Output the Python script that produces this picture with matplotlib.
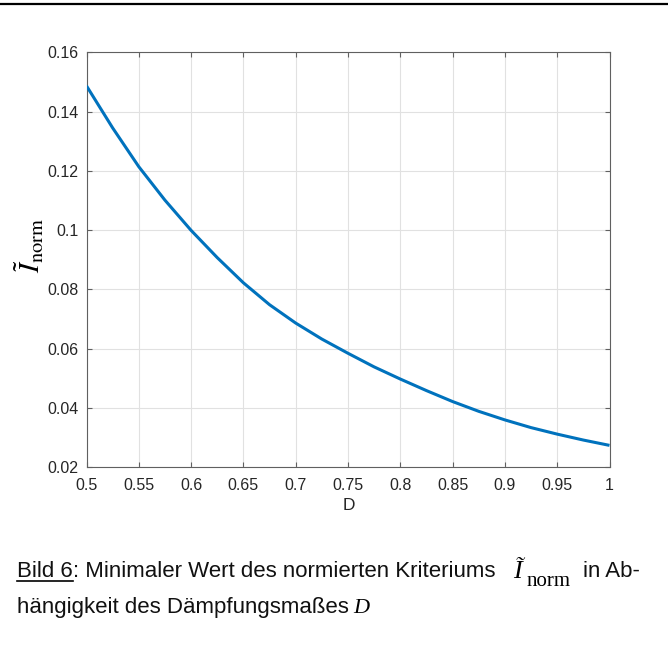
import matplotlib
matplotlib.use('Agg')
import matplotlib.pyplot as plt
from matplotlib.lines import Line2D

# ---- data ----
D = [0.500, 0.525, 0.550, 0.575, 0.600, 0.625, 0.650, 0.675, 0.700, 0.725,
     0.750, 0.775, 0.800, 0.825, 0.850, 0.875, 0.900, 0.925, 0.950, 0.975, 1.000]
I_norm = [0.1487, 0.1345, 0.1214, 0.1101, 0.0999, 0.0907, 0.0822, 0.0748, 0.0686, 0.0632,
          0.0584, 0.0538, 0.0497, 0.0458, 0.0421, 0.0388, 0.0359, 0.0333, 0.0311, 0.0291, 0.0273]
x_ticks = [0.5, 0.55, 0.6, 0.65, 0.7, 0.75, 0.8, 0.85, 0.9, 0.95, 1.0]
x_tick_labels = ['0.5', '0.55', '0.6', '0.65', '0.7', '0.75', '0.8', '0.85', '0.9', '0.95', '1']
y_ticks = [0.02, 0.04, 0.06, 0.08, 0.10, 0.12, 0.14, 0.16]
y_tick_labels = ['0.02', '0.04', '0.06', '0.08', '0.1', '0.12', '0.14', '0.16']

plt.rcParams['mathtext.fontset'] = 'stix'
plt.rcParams['font.family'] = ['Liberation Sans', 'DejaVu Sans']

W, H = 668, 646
def px(x, y):
    return x / W, 1 - y / H

fig = plt.figure(figsize=(W / 100, H / 100), dpi=100)
fig.patch.set_facecolor('white')

# top rule
fig.add_artist(Line2D([0, 1], [1 - 4.2 / H] * 2, color='black', lw=1.6))

L, R, T, B = 86.5, 609.5, 52.4, 467.0
ax = fig.add_axes([L / W, 1 - B / H, (R - L) / W, (B - T) / H])

ax.plot(D, I_norm, color='#0072BD', lw=2.2, solid_capstyle='butt',
        solid_joinstyle='round', zorder=3)
ax.set_xlim(0.5, 1.0)
ax.set_ylim(0.02, 0.16)
ax.set_xticks(x_ticks)
ax.set_xticklabels(x_tick_labels)
ax.set_yticks(y_ticks)
ax.set_yticklabels(y_tick_labels)
ax.grid(True, color='#e1e1e1', lw=0.8)
ax.set_axisbelow(True)
for s in ax.spines.values():
    s.set_color('#606060')
    s.set_linewidth(0.8)
ax.tick_params(direction='in', length=3.5, width=0.8, color='#606060',
               top=True, right=True, labelsize=11.5, labelcolor='#262626')
ax.tick_params(axis='x', pad=8)
ax.tick_params(axis='y', pad=6)

fig.text(*px(349, 506), 'D', fontsize=12.5, color='#262626', ha='center', va='center')
fig.text(*px(29, 245), r'$\tilde{I}_{\mathrm{norm}}$', fontsize=21, rotation=90,
         ha='center', va='center', color='black')

# ---- caption ----
fig.canvas.draw()
r = fig.canvas.get_renderer()
cap_fs = 16
y1 = 577
t1 = fig.text(*px(17, y1), 'Bild 6', fontsize=cap_fs, va='baseline', color='#111111')
bb = t1.get_window_extent(r)
fig.add_artist(Line2D([bb.x0 / W, bb.x1 / W], [1 - 580.8 / H] * 2, color='black', lw=1.2))
fig.text(bb.x1 / W, 1 - y1 / H, ': Minimaler Wert des normierten Kriteriums',
         fontsize=cap_fs, va='baseline', color='#111111')
fig.text(*px(513, 578), 'Ĩ', fontsize=19, family=['Liberation Serif', 'DejaVu Serif'],
         style='italic', va='baseline', color='black')
fig.text(*px(527, 586), 'norm', fontsize=15, family='Liberation Serif', va='baseline', color='black')
fig.text(*px(583, y1), 'in Ab-', fontsize=cap_fs, va='baseline', color='#111111')

y2 = 613
t2 = fig.text(*px(17, y2), 'hängigkeit des Dämpfungsmaßes', fontsize=cap_fs,
              va='baseline', color='#111111')
bb2 = t2.get_window_extent(r)
fig.text((bb2.x1 + 4) / W, 1 - y2 / H, 'D', fontsize=cap_fs, family='Liberation Serif',
         style='italic', va='baseline', color='black')

fig.savefig('out.png', dpi=100, facecolor='white')
